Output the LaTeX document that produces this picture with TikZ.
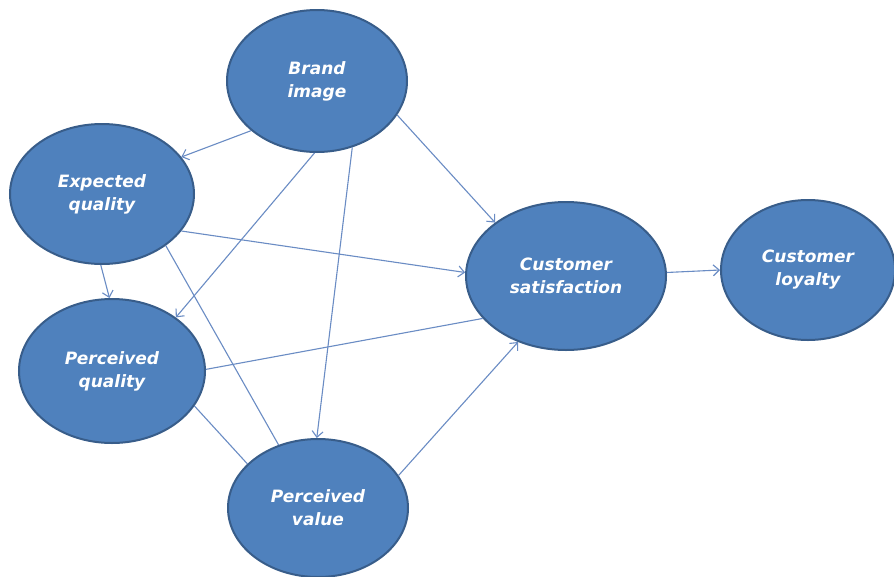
\documentclass[tikz,border=0pt]{standalone}
\usepackage{fontspec}
\setmainfont{DejaVu Sans}[ItalicFont={DejaVu Sans Oblique},BoldFont={DejaVu Sans Bold},BoldItalicFont={DejaVu Sans Bold Oblique}]
\usetikzlibrary{shapes.geometric,arrows.meta}
\definecolor{nodefill}{HTML}{4F81BD}
\definecolor{nodeedge}{HTML}{385D8A}
\definecolor{linkblue}{HTML}{6A8CC4}
\begin{document}
\begin{tikzpicture}[x=1pt,y=-1pt,
  factor/.style={ellipse, fill=nodefill, draw=nodeedge, line width=2pt,
    inner sep=0pt, text=white, align=center,
    font=\fontsize{17}{23}\selectfont\bfseries\itshape},
  link/.style={draw=linkblue, line width=1.1pt},
  arrowlink/.style={link, -{Straight Barb[length=6pt,width=11pt]}}]
\useasboundingbox (0,0) rectangle (894,576);
\clip (0,0) rectangle (894,576);
\fill[white] (0,0) rectangle (894,576);

% constructs
\node[factor, minimum width=180pt, minimum height=142pt] (bi) at (317,81) {Brand\\image};
\node[factor, minimum width=184pt, minimum height=140pt] (eq) at (102,194) {Expected\\quality};
\node[factor, minimum width=186pt, minimum height=144pt] (pq) at (112,371) {Perceived\\quality};
\node[factor, minimum width=180pt, minimum height=138pt] (pv) at (318,508) {Perceived\\value};
\node[factor, minimum width=200pt, minimum height=148pt] (cs) at (566,276) {Customer\\satisfaction};
\node[factor, minimum width=174pt, minimum height=140pt] (cl) at (808,270) {Customer\\loyalty};

% paths between constructs
\draw[arrowlink] (bi.217) -- (eq.25);
\draw[arrowlink] (bi.268) -- (pq.40);
\draw[arrowlink] (bi.298) -- (pv.91);
\draw[arrowlink] (bi.337) -- (cs.143);
\draw[arrowlink] (eq.335) -- (cs.178);
\draw[arrowlink] (eq.269) -- (pq.92);
\draw[link] (eq.321) -- (pv.122);
\draw[link] (pq.1) -- (cs.207);
\draw[link] (pq.337) -- (pv.148);
\draw[arrowlink] (pv.22) -- (cs.234);
\draw[arrowlink] (cs.2) -- (cl.180);
\end{tikzpicture}
\end{document}
